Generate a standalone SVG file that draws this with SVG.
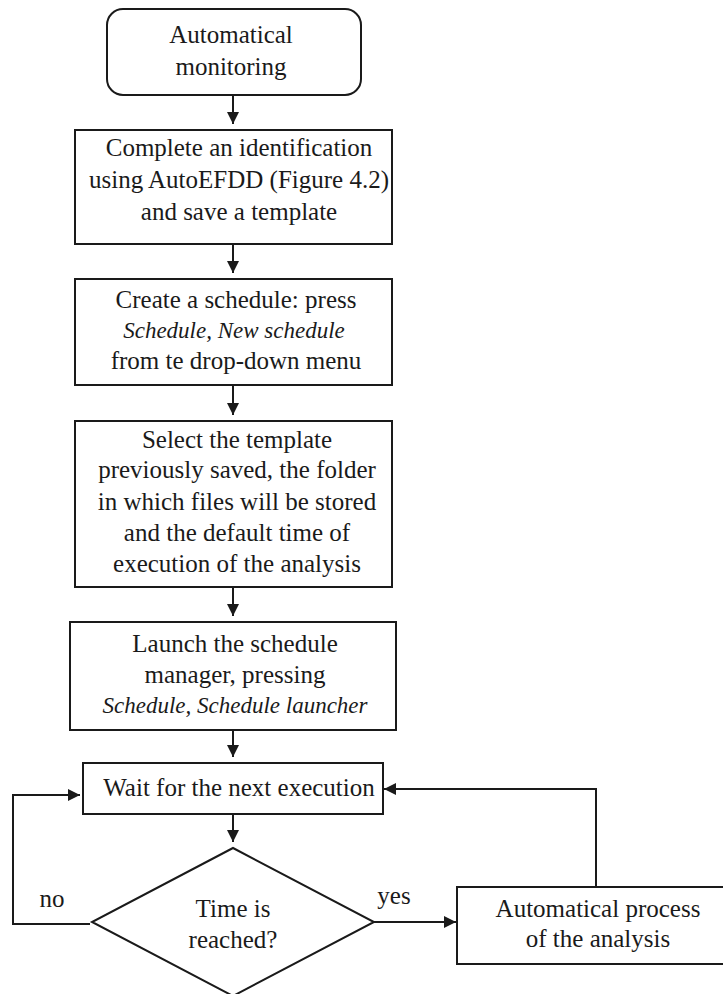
<svg xmlns="http://www.w3.org/2000/svg" width="723" height="994" viewBox="0 0 723 994">
  <style>
    .box { fill: #fff; stroke: #1a1a1a; stroke-width: 2; }
    .lbl { font-family: "Liberation Serif", "Times New Roman", serif; font-size: 25px; fill: #1a1a1a; text-anchor: middle; }
    .it { font-style: italic; font-size: 23px; }
    .edge { fill: none; stroke: #1a1a1a; stroke-width: 2; }
  </style>
  <defs>
    <marker id="arrow" viewBox="0 0 12 12" refX="12" refY="6" markerWidth="12" markerHeight="12" markerUnits="userSpaceOnUse" orient="auto">
      <path d="M0,0 L12,6 L0,12 Z" fill="#1a1a1a"/>
    </marker>
  </defs>
  <rect width="723" height="994" fill="#fff"/>

  <g id="start">
    <rect class="box" x="107" y="9" width="254" height="86" rx="16"/>
    <text class="lbl" x="231" y="43">Automatical</text>
    <text class="lbl" x="231" y="75">monitoring</text>
  </g>

  <g id="identify">
    <rect class="box" x="75" y="130" width="317" height="114"/>
    <text class="lbl" x="239" y="156">Complete an identification</text>
    <text class="lbl" x="239" y="188">using AutoEFDD (Figure 4.2)</text>
    <text class="lbl" x="239" y="220">and save a template</text>
  </g>

  <g id="create-schedule">
    <rect class="box" x="75" y="279" width="317" height="106"/>
    <text class="lbl" x="236" y="308">Create a schedule: press</text>
    <text class="lbl it" x="234" y="338">Schedule, New schedule</text>
    <text class="lbl" x="236" y="369">from te drop-down menu</text>
  </g>

  <g id="select-template">
    <rect class="box" x="75" y="421" width="317" height="166"/>
    <text class="lbl" x="237" y="448">Select the template</text>
    <text class="lbl" x="237" y="478">previously saved, the folder</text>
    <text class="lbl" x="237" y="510">in which files will be stored</text>
    <text class="lbl" x="237" y="541">and the default time of</text>
    <text class="lbl" x="237" y="572">execution of the analysis</text>
  </g>

  <g id="launch">
    <rect class="box" x="70" y="622" width="326" height="108"/>
    <text class="lbl" x="235" y="652">Launch the schedule</text>
    <text class="lbl" x="235" y="683">manager, pressing</text>
    <text class="lbl it" x="235" y="713">Schedule, Schedule launcher</text>
  </g>

  <g id="wait">
    <rect class="box" x="83" y="763" width="300" height="51"/>
    <text class="lbl" x="239" y="796">Wait for the next execution</text>
  </g>

  <g id="decision">
    <polygon class="box" points="233,848 374,922 233,996 92,922"/>
    <text class="lbl" x="233" y="917">Time is</text>
    <text class="lbl" x="233" y="948">reached?</text>
  </g>

  <g id="process">
    <rect class="box" x="457" y="887" width="275" height="77"/>
    <text class="lbl" x="598" y="917">Automatical process</text>
    <text class="lbl" x="598" y="947">of the analysis</text>
  </g>

  <g id="connectors">
    <line class="edge" x1="233" y1="95" x2="233" y2="124" marker-end="url(#arrow)"/>
    <line class="edge" x1="233" y1="244" x2="233" y2="273" marker-end="url(#arrow)"/>
    <line class="edge" x1="233" y1="385" x2="233" y2="415" marker-end="url(#arrow)"/>
    <line class="edge" x1="233" y1="587" x2="233" y2="616" marker-end="url(#arrow)"/>
    <line class="edge" x1="233" y1="730" x2="233" y2="757" marker-end="url(#arrow)"/>
    <line class="edge" x1="233" y1="814" x2="233" y2="842" marker-end="url(#arrow)"/>
    <polyline class="edge" points="90,924 13,924 13,795 80,795" marker-end="url(#arrow)"/>
    <line class="edge" x1="374" y1="922" x2="456" y2="922" marker-end="url(#arrow)"/>
    <polyline class="edge" points="596,887 596,789 384,789" marker-end="url(#arrow)"/>
    <text class="lbl" x="52" y="907">no</text>
    <text class="lbl" x="394" y="904">yes</text>
  </g>
</svg>
